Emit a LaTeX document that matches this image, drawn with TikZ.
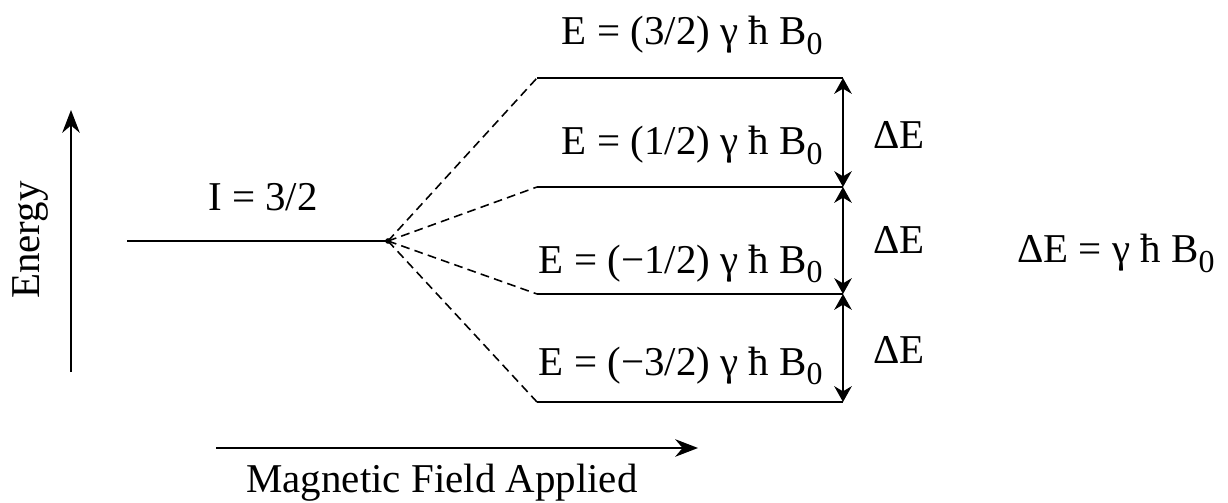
\documentclass[tikz,border=0pt]{standalone}
\usepackage{fontspec}
\setmainfont{Liberation Serif}
\usetikzlibrary{arrows.meta}
\newcommand{\subz}{\raisebox{-0.24em}{\scalebox{0.78}{0}}}
\tikzset{
  lbl/.style={font=\fontsize{23.3}{28}\selectfont, inner sep=0pt},
  level/.style={line width=1.1pt},
  split/.style={line width=0.9pt, dash pattern=on 5pt off 3pt},
  gap/.style={line width=0.9pt, {Stealth[length=9pt,width=10pt]}-{Stealth[length=9pt,width=10pt]}},
  axis/.style={line width=0.9pt, -{Stealth[length=13pt,width=10pt]}}
}
\begin{document}
\begin{tikzpicture}
\useasboundingbox (0,0) rectangle (24.560,10.040);
% levels
\coordinate (u) at (7.760,5.220);
\coordinate (i0) at (2.540,5.220);
\coordinate (a1) at (10.740,8.480); \coordinate (b1) at (16.860,8.480);
\coordinate (a2) at (10.740,6.300); \coordinate (b2) at (16.860,6.300);
\coordinate (a3) at (10.740,4.160); \coordinate (b3) at (16.860,4.160);
\coordinate (a4) at (10.740,2.000); \coordinate (b4) at (16.860,2.000);
\draw[level] (i0) -- (u);
\fill (u) circle (1.6pt);
\draw[level] (a1) -- (b1);
\draw[level] (a2) -- (b2);
\draw[level] (a3) -- (b3);
\draw[level] (a4) -- (b4);
\draw[split] (u) -- (a1);
\draw[split] (u) -- (a2);
\draw[split] (u) -- (a3);
\draw[split] (u) -- (a4);
\draw[gap] (b1) -- (b2);
\draw[gap] (b2) -- (b3);
\draw[gap] (b3) -- (b4);
% labels
\node[lbl, anchor=base] (spin) at (5.260,5.820) {I = 3/2};
\node[lbl, anchor=base east] (e1) at (16.460,9.140) {E = (3/2) γ ħ B\subz};
\node[lbl, anchor=base east] (e2) at (16.460,6.940) {E = (1/2) γ ħ B\subz};
\node[lbl, anchor=base east] (e3) at (16.460,4.580) {E = (−1/2) γ ħ B\subz};
\node[lbl, anchor=base east] (e4) at (16.460,2.540) {E = (−3/2) γ ħ B\subz};
\node[lbl, anchor=base west] (d1) at (17.460,7.060) {ΔE};
\node[lbl, anchor=base west] (d2) at (17.460,4.960) {ΔE};
\node[lbl, anchor=base west] (d3) at (17.460,2.780) {ΔE};
\node[lbl, anchor=base west] (rel) at (20.340,4.780) {ΔE = γ ħ B\subz};
% axes
\coordinate (ey0) at (1.420,2.600);
\coordinate (ey1) at (1.420,7.840);
\draw[axis] (ey0) -- (ey1);
\node[lbl, rotate=90, anchor=base] (energy) at (0.800,5.240) {Energy};
\coordinate (bx0) at (4.320,1.080);
\coordinate (bx1) at (13.960,1.080);
\draw[axis] (bx0) -- (bx1);
\node[lbl, anchor=base] (field) at (8.840,0.200) {Magnetic Field Applied};
\end{tikzpicture}
\end{document}
